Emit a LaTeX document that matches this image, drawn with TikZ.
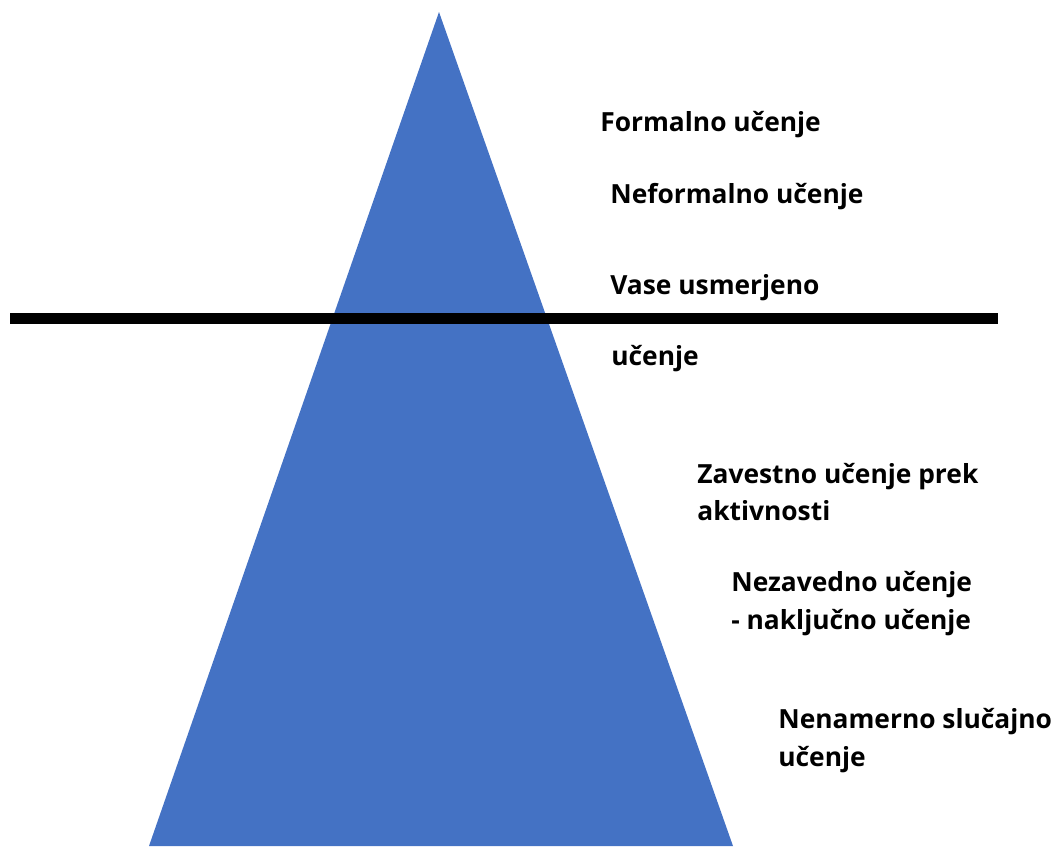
\documentclass[tikz,border=0pt]{standalone}
\usepackage{fontspec}
\setmainfont{Open Sans}
\usetikzlibrary{positioning}

\definecolor{ledBlue}{HTML}{4472C4}

\begin{document}
\begin{tikzpicture}[
  x=0.02cm, y=-0.02cm,
  lbl/.style={anchor=west, align=left, inner sep=0pt, font=\fontsize{15}{21.6}\selectfont\bfseries},
  bar/.style={line width=0.22cm},
]
\useasboundingbox (0,0) rectangle (1055,846);

% ledena gora
\coordinate (apex) at (439,12);
\coordinate (bl) at (149,846);
\coordinate (br) at (733,846);
\fill[ledBlue] (apex) -- (br) -- (bl) -- cycle;

% gladina
\coordinate (wl) at (10,318);
\coordinate (wr) at (998,318);
\draw[bar] (wl) -- (wr);

\node[lbl] (formal) at (600,125) {Formalno učenje};
\node[lbl] (neformal) at (610,197) {Neformalno učenje};
\node[lbl] (vase) at (610,288) {Vase usmerjeno};
\node[lbl] (ucenje) at (611,359) {učenje};
\node[lbl] (zavestno) at (697,492) {Zavestno učenje prek\\aktivnosti};
\node[lbl] (nezavedno) at (731,604) {Nezavedno učenje\\- naključno učenje};
\node[lbl] (nenamerno) at (778,741) {Nenamerno slučajno\\učenje};

\end{tikzpicture}
\end{document}
